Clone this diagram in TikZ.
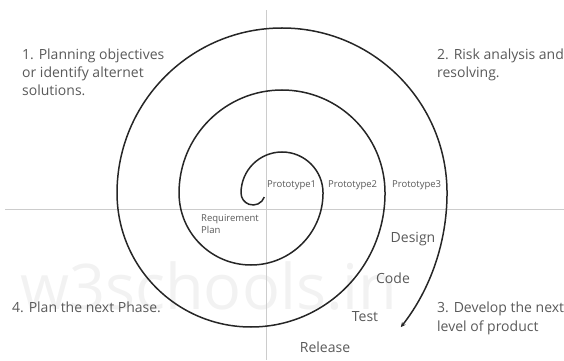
\documentclass[tikz,border=0pt]{standalone}
\usepackage{fontspec}
\setmainfont{Open Sans}
\usetikzlibrary{arrows.meta}

\definecolor{axisgray}{gray}{0.80}
\definecolor{labelgray}{gray}{0.35}
\definecolor{markgray}{gray}{0.95}

\tikzset{
  phase/.style={inner sep=0pt, text=labelgray, align=left,
    font=\fontsize{14}{18.3}\selectfont},
  task/.style={inner sep=0pt, text=labelgray, anchor=base,
    font=\fontsize{14}{17}\selectfont},
  proto/.style={inner sep=0pt, text=labelgray, align=left,
    font=\fontsize{9.5}{11.5}\selectfont},
  spiral/.style={line width=1.5pt, draw=black!85}
}

\newcommand{\quadrants}{
  % The axes
  \draw [axisgray, line width=0.8pt] (5,151) -- (564,151);
  \draw [axisgray, line width=0.8pt] (266,350) -- (266,0);
}

\begin{document}
\begin{tikzpicture}[x=1pt, y=1pt]
    \useasboundingbox (0,0) rectangle (564,360);

    % Watermark
    \node [inner sep=0pt, anchor=base west, text=markgray,
           font=\fontsize{63}{63}\selectfont] (mark) at (20,51) {w3schools.in};

    \quadrants

    % The spiral, two centres
    \coordinate (upc) at (282,167);
    \coordinate (lowc) at (251,167);
    \draw [spiral, -{Stealth[length=5pt,width=4.5pt]}] (264.3,162.9)
        arc [start angle=-20, end angle=-180, radius=12]
        arc [start angle=180, end angle=0, radius=41]
        arc [start angle=0, end angle=-180, radius=72]
        arc [start angle=180, end angle=0, radius=103]
        arc [start angle=0, end angle=-180, radius=134]
        arc [start angle=180, end angle=0, radius=165]
        arc [start angle=0, end angle=-38, radius=218];

    % The four phases
    \node [phase, anchor=north west] (plan) at (22,311.6)
        {1. Planning objectives\\or identify alternet\\solutions.};
    \node [phase, anchor=north west] (risk) at (437,311.6)
        {2. Risk analysis and\\resolving.};
    \node [phase, anchor=north west] (develop) at (437,58.1)
        {3. Develop the next\\level of product};
    \node [phase, anchor=base west] (next) at (12,48) {4. Plan the next Phase.};

    % Prototypes
    \node [proto, anchor=base west] (proto1) at (267,173) {Prototype1};
    \node [proto, anchor=base west] (proto2) at (328,173) {Prototype2};
    \node [proto, anchor=base west] (proto3) at (392,173) {Prototype3};
    \node [proto, anchor=north west] (req) at (201,145.2) {Requirement\\Plan};

    % Steps
    \node [task] (design) at (413,118) {Design};
    \node [task] (code) at (393,77) {Code};
    \node [task] (test) at (365,39) {Test};
    \node [task] (release) at (325,8) {Release};
\end{tikzpicture}
\end{document}
